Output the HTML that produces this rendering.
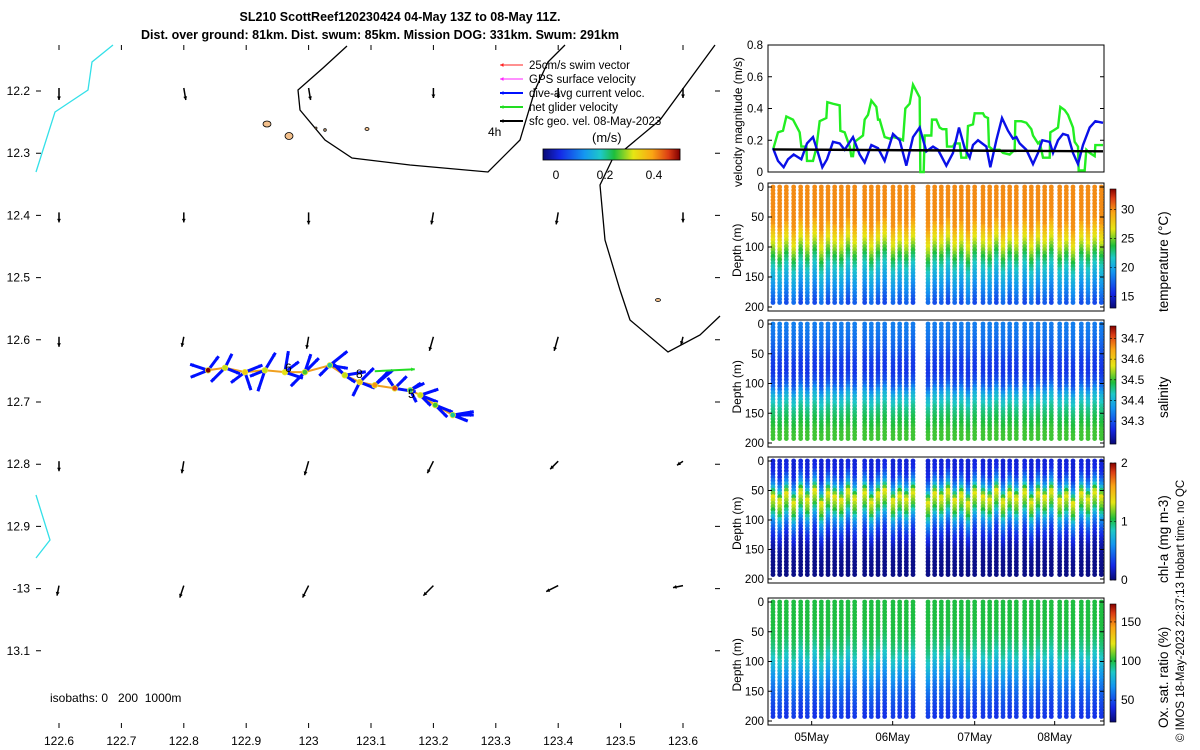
<!DOCTYPE html>
<html><head><meta charset="utf-8"><style>
body{margin:0;background:#fff;width:1200px;height:750px;overflow:hidden}
svg{font-family:"Liberation Sans","DejaVu Sans",sans-serif;display:block}
</style></head><body>
<svg id="s" width="1200" height="750" viewBox="0 0 1200 750">
<text x="400" y="21" text-anchor="middle" font-size="12.5" font-weight="bold">SL210 ScottReef120230424 04-May 13Z to 08-May 11Z.</text>
<text x="380" y="39" text-anchor="middle" font-size="12.5" font-weight="bold">Dist. over ground: 81km. Dist. swum: 85km. Mission DOG: 331km. Swum: 291km</text>
<g id="map"></g>
<g id="vel"></g>
<g id="sc"></g>
<text transform="translate(1184,742) rotate(-90)" font-size="11.5">© IMOS 18-May-2023 22:37:13 Hobart time. no QC</text>
</svg>
<script>
// ---------- DATA ----------
const mapLonTicks=[122.6,122.7,122.8,122.9,123,123.1,123.2,123.3,123.4,123.5,123.6];
const mapLatTicks=[12.2,12.3,12.4,12.5,12.6,12.7,12.8,12.9,13,13.1];
const mapLatLabels=["12.2","12.3","12.4","12.5","12.6","12.7","12.8","12.9","-13","13.1"];
const gridLons=[122.6,122.8,123.0,123.2,123.4,123.6];
const gridLats=[12.2,12.4,12.6,12.8,13.0];
const gridU=[[0,0.01,0.01,0,0,0],[0,0,0,-0.01,-0.01,0],[0,-0.01,-0.01,-0.02,-0.02,-0.01],[0,-0.01,-0.02,-0.03,-0.04,-0.03],[-0.01,-0.02,-0.03,-0.05,-0.06,-0.05]];
const gridV=[[0.06,0.06,0.06,0.05,0.05,0.05],[0.05,0.05,0.06,0.06,0.06,0.05],[0.05,0.05,0.06,0.07,0.07,0.04],[0.05,0.06,0.07,0.06,0.04,0.02],[0.05,0.06,0.06,0.05,0.03,0.01]];
const trackLon=[122.839,122.866,122.898,122.930,122.962,122.994,123.034,123.058,123.082,123.106,123.138,123.163,123.179,123.203,123.231];
const trackLat=[12.649,12.645,12.652,12.649,12.652,12.652,12.641,12.657,12.668,12.673,12.678,12.681,12.689,12.705,12.721];
const trackSpeed=[0.5,0.3,0.35,0.3,0.32,0.25,0.2,0.3,0.35,0.4,0.45,0.2,0.3,0.25,0.2];
const currU=[-0.25,0.1,-0.2,0.15,0.05,-0.2,0.25,0.15,0.2,0.1,0.3,0.2,0.15,0.25,0.3];
const currV=[0.1,-0.2,0.15,-0.25,-0.3,0.2,-0.2,0.1,-0.2,-0.1,0.05,-0.1,0.15,0.1,-0.05];
const curr2U=[0.15,-0.2,0.25,-0.1,0.2,0.2,-0.15,0.3,-0.1,0.2,-0.1,0.15,0.25,0.1,0.3];
const curr2V=[-0.2,0.2,-0.1,0.3,-0.15,-0.2,0.15,-0.05,0.2,-0.2,-0.15,-0.1,0.1,0.05,0.0];
const curr3U=[-0.3,0.25,0.1,-0.25,0.3,0.1,0.3,-0.2,0.25,0.3,0.2,0.1,0.3,0.2,0.25];
const curr3V=[-0.1,0.1,0.3,0.1,0.1,-0.3,0.05,-0.2,0.1,-0.25,-0.2,0.2,-0.1,0.2,0.1];
const velTicks=[0,0.2,0.4,0.6,0.8];
const greenT=[160,175,190,200,220,240,245,260,262,280,290,300,320,323,340,360,362,375,390,395,400,405,430,435,445,455,470,475,480,495,510,520,540,550,557,570,580,600,602,612,615,635,637,650,660,668,680,682,700,705,720,725,740,745,760,765,790,795,805,808,820,840,850,870,885,887,905,920,935,940,955,960,970,990,992,1000,1015,1022,1035,1045,1060,1065,1075,1077,1095,1100,1110,1125,1127,1150];
const greenV=[0.14,0.25,0.26,0.35,0.33,0.25,0.16,0.16,0.07,0.07,0.15,0.32,0.34,0.44,0.43,0.42,0.26,0.25,0.16,0.10,0.10,0.19,0.23,0.33,0.36,0.45,0.41,0.33,0.33,0.22,0.21,0.22,0.21,0.20,0.40,0.43,0.55,0.47,0,0,0.23,0.23,0.33,0.33,0.28,0.27,0.27,0.16,0.16,0.18,0.18,0.09,0.09,0.29,0.30,0.37,0.37,0.35,0.34,0.16,0.14,0.14,0.12,0.11,0.14,0.32,0.32,0.31,0.27,0.23,0.18,0.19,0.09,0.09,0.25,0.26,0.28,0.41,0.39,0.36,0.28,0.19,0.16,0.01,0.01,0.14,0.12,0.10,0.17,0.17];
const blueT=[160,175,192,205,222,245,262,280,295,308,322,340,360,375,400,420,435,455,475,495,520,540,560,580,600,620,640,655,680,700,718,735,750,760,775,800,812,830,847,865,880,890,900,920,940,955,968,990,1000,1015,1030,1045,1060,1075,1090,1110,1127,1150];
const blueV=[0.15,0.07,0.03,0.08,0.11,0.08,0.18,0.22,0.12,0.03,0.08,0.19,0.18,0.14,0.22,0.11,0.06,0.17,0.15,0.07,0.24,0.20,0.04,0.22,0.28,0.13,0.16,0.14,0.04,0.12,0.28,0.15,0.09,0.17,0.20,0.16,0.03,0.20,0.34,0.26,0.21,0.22,0.18,0.14,0.05,0.12,0.20,0.19,0.12,0.20,0.24,0.23,0.12,0.05,0.17,0.28,0.32,0.31];
const blackT=[160,1150];
const blackV=[0.142,0.13];
const dayTicks=[276,519,765,1005];
const dayLabels=["05May","06May","07May","08May"];
const profileT=[160,180,200,222,243,263,285,305,325,345,365,385,405,435,455,475,495,520,540,560,580,625,645,665,685,705,725,745,765,790,810,830,850,870,890,915,935,955,975,995,1020,1040,1060,1085,1105,1125,1145];
const profileShift=[0,-8,5,-10,8,-5,10,-12,6,0,-6,9,-3,7,-9,4,10,-7,2,-4,8,-10,5,-2,9,-6,3,-11,7,0,-5,10,-8,4,-3,8,-9,6,-1,9,-7,2,-12,5,-4,8,0];
const depthLevels=[0,20,40,60,80,100,120,140,160,180,200];
const tempProfile=[30,30,30,29.8,27.5,25.5,23,21,19.5,18,16.5];
const salProfile=[34.34,34.33,34.31,34.28,34.27,34.3,34.4,34.45,34.48,34.5,34.5];
const chlProfile=[0.2,0.25,0.6,1.35,1.1,0.6,0.3,0.12,0.05,0.03,0.03];
const oxProfile=[100,100,100,98,92,82,70,60,52,46,42];
const depthTicks=[0,50,100,150,200];
// ---------- HELPERS ----------
const NS="http://www.w3.org/2000/svg";
function mk(p,tag,a){const e=document.createElementNS(NS,tag);for(const k in a)e.setAttribute(k,a[k]);p.appendChild(e);return e;}
const CM=[[0,[10,10,120]],[0.12,[20,40,230]],[0.3,[20,150,240]],[0.42,[30,200,200]],[0.52,[30,190,60]],[0.66,[230,230,20]],[0.8,[250,165,20]],[0.92,[220,60,20]],[1,[130,0,0]]];
function jet(t){t=Math.max(0,Math.min(1,t));for(let i=1;i<CM.length;i++)if(t<=CM[i][0]){const f=(t-CM[i-1][0])/(CM[i][0]-CM[i-1][0]);const a=CM[i-1][1],b=CM[i][1];return `rgb(${a.map((v,k)=>Math.round(v+f*(b[k]-v))).join(',')})`;}return 'rgb(130,0,0)';}
function interp(xs,ys,x){if(x<=xs[0])return ys[0];for(let i=1;i<xs.length;i++)if(x<=xs[i]){const f=(x-xs[i-1])/(xs[i]-xs[i-1]);return ys[i-1]+f*(ys[i]-ys[i-1]);}return ys[ys.length-1];}
// ---------- MAP ----------
const map=document.getElementById('map');
const lx=l=>59+(l-122.6)*624, ly=l=>91+(l-12.2)*622;
mapLonTicks.forEach((l,i)=>{const x=lx(l);
 const tk=mk(map,'path',{d:`M${x} 45V50M${x} 728V723`,stroke:'#000','stroke-width':1});
 
 const t=mk(map,'text',{x:x,y:745,'text-anchor':'middle','font-size':12});t.textContent=String(l);
 });
mapLatTicks.forEach((l,i)=>{const y=ly(l);
 const tk=mk(map,'path',{d:`M36 ${y}H41M720 ${y}H715`,stroke:'#000','stroke-width':1});
 
 const t=mk(map,'text',{x:30,y:y+4,'text-anchor':'end','font-size':12});t.textContent=mapLatLabels[i];
 });
[['M113 45L92 62L88 90L55 112L36 172','#33e0e8','coastline-north'],['M36 495L50 540L36 558','#33e0e8','coastline-south'],
 ['M347 46L323 68L298 90L300 110L325 140L352 158L410 165L488 172L520 140L535 90L548 62L565 45','#000','reef-outline-north'],
 ['M715 45L660 120L612 160L600 185L605 240L620 290L630 320L668 352L700 335L720 316','#000','reef-outline-east']].forEach(p=>{
 const e=mk(map,'path',{d:p[0],stroke:p[1],fill:'none','stroke-width':1.3});});
[[267,124,4,3],[289,136,4,3.5],[316,128,1,1],[325,130,1.3,1.3],[367,129,2,1.5],[658,300,2.5,1.5]].forEach(c=>{
 const e=mk(map,'ellipse',{cx:c[0],cy:c[1],rx:c[2],ry:c[3],fill:'#f3c08c',stroke:'#000','stroke-width':0.8});});
function arrow(p,x1,y1,x2,y2,col,w,name){const g=mk(p,'g',{});
 mk(g,'line',{x1,y1,x2,y2,stroke:col,'stroke-width':w});const a=Math.atan2(y2-y1,x2-x1),h=4;
 mk(g,'path',{d:`M${x2} ${y2}L${x2-h*Math.cos(a-0.5)} ${y2-h*Math.sin(a-0.5)}L${x2-h*Math.cos(a+0.5)} ${y2-h*Math.sin(a+0.5)}Z`,fill:col});}
gridLats.forEach((la,j)=>gridLons.forEach((lo,i)=>{const x=lx(lo),y=ly(la)-3;arrow(map,x,y,x+gridU[j][i]*200,y+gridV[j][i]*200,'#000',1.5,'surface-geo-velocity-arrow');}));
const tr=mk(map,'polyline',{points:trackLon.map((l,i)=>lx(l)+','+ly(trackLat[i])).join(' '),fill:'none',stroke:'#f0a020','stroke-width':2});

trackLon.forEach((l,i)=>{const x=lx(l),y=ly(trackLat[i]);
 arrow(map,x,y,x+currU[i]*70,y+currV[i]*70,'#0010ff',3,'dive-avg-current-arrow');
 arrow(map,x,y,x+curr2U[i]*70,y+curr2V[i]*70,'#0010ff',3,'dive-avg-current-arrow');
 arrow(map,x,y,x+curr3U[i]*60,y+curr3V[i]*60,'#0010ff',3,'dive-avg-current-arrow');});
trackLon.forEach((l,i)=>{const x=lx(l),y=ly(trackLat[i]);
 const d=mk(map,'circle',{cx:x,cy:y,r:2.8,fill:jet((trackSpeed[i]+0.05)/0.55),stroke:'#e8e830','stroke-width':0.8});
 });
arrow(map,lx(trackLon[9]),ly(trackLat[9])-14,lx(trackLon[9])+40,ly(trackLat[9])-16,'#22dd22',2,'net-glider-velocity-arrow');
[["8",356,378],["5",408,398],["6",285,372]].forEach(t=>{const e=mk(map,'text',{x:t[1],y:t[2],'font-size':12});e.textContent=t[0];});
const leg=[['#ff2020','25cm/s swim vector'],['#ff20ff','GPS surface velocity'],['#0010ff','dive-avg current veloc.'],['#22dd22','net glider velocity'],['#000','sfc geo. vel. 08-May-2023']];
leg.forEach((l,i)=>{const y=65+i*14;arrow(map,523,y,500,y,l[0],i>=2?2:1,'legend-swatch');
 const t=mk(map,'text',{x:529,y:y+4,'font-size':11.5});t.textContent=l[1];});
{const t=mk(map,'text',{x:488,y:136,'font-size':12});t.textContent='4h';
 const u=mk(map,'text',{x:592,y:142,'font-size':13});u.textContent='(m/s)';
 const cb=mk(map,'g',{});
 for(let i=0;i<137;i++)mk(cb,'rect',{x:543+i,y:149,width:1.2,height:11,fill:jet(i/136)});
 mk(cb,'rect',{x:543,y:149,width:137,height:11,fill:'none',stroke:'#000','stroke-width':0.8});
 [[0,'0'],[0.2,'0.2'],[0.4,'0.4']].forEach(v=>{const x=556+v[0]*245;const t=mk(map,'text',{x:x,y:179,'text-anchor':'middle','font-size':12});t.textContent=v[1];});
 const iso=mk(map,'text',{x:50,y:702,'font-size':12,style:'white-space:pre'});iso.textContent='isobaths: 0   200  1000m';}
// ---------- VELOCITY ----------
const X0=768,X1=1104;const tx=t=>X0+(t-145)/1008*(X1-X0);
const vel=document.getElementById('vel');const vy=v=>172-v/0.8*127;
{const b=mk(vel,'rect',{x:X0,y:45,width:X1-X0,height:127,fill:'#fff',stroke:'#000','stroke-width':1});}
velTicks.forEach(v=>{const y=vy(v);mk(vel,'path',{d:`M${X0} ${y}h4M${X1} ${y}h-4`,stroke:'#000'});
 const t=mk(vel,'text',{x:763,y:y+4,'text-anchor':'end','font-size':11.5});t.textContent=String(v);});
[[greenT,greenV,'#22ee22','glider-speed-line'],[blueT,blueV,'#0a10e8','current-speed-line'],[blackT,blackV,'#000','geo-velocity-line']].forEach(s=>{
 const p=mk(vel,'polyline',{points:s[0].map((t,i)=>tx(t)+','+vy(s[1][i])).join(' '),fill:'none',stroke:s[2],'stroke-width':2.4});
 });
{const t=mk(vel,'text',{transform:'translate(742,187) rotate(-90)','font-size':12});t.textContent='velocity magnitude (m/s)';}
// ---------- PROFILE PANELS ----------
const sc=document.getElementById('sc');
const panels=[
 {y0:183,y1:311,prof:tempProfile,lo:13,hi:33.5,ticks:[15,20,25,30],lab:['15','20','25','30'],title:'temperature (°C)',ty:312,name:'temperature'},
 {y0:320,y1:447,prof:salProfile,lo:34.19,hi:34.76,ticks:[34.3,34.4,34.5,34.6,34.7],lab:['34.3','34.4','34.5','34.6','34.7'],title:'salinity',ty:418,name:'salinity'},
 {y0:457,y1:583,prof:chlProfile,lo:0,hi:2,ticks:[0,1,2],lab:['0','1','2'],title:'chl-a (mg m-3)',ty:583,name:'chlorophyll'},
 {y0:598,y1:725,prof:oxProfile,lo:22,hi:173,ticks:[50,100,150],lab:['50','100','150'],title:'Ox. sat. ratio (%)',ty:728,name:'oxygen'}];
panels.forEach((P,pi)=>{const g=mk(sc,'g',{});
 const dy=d=>P.y0+4+d/200*(P.y1-P.y0-8);
 mk(g,'rect',{x:X0,y:P.y0,width:X1-X0,height:P.y1-P.y0,fill:'#fff',stroke:'#000'});
 profileT.forEach((t,i)=>{const x=tx(t);const col=mk(g,'g',{});
  for(let d=0;d<=196;d+=5.5){const v=interp(depthLevels,P.prof,d+profileShift[i]*(pi==1?0.5:1));
   mk(col,'circle',{cx:x,cy:dy(d),r:2.4,fill:jet((v-P.lo)/(P.hi-P.lo))});}});
 depthTicks.forEach(d=>{const y=dy(d);mk(g,'path',{d:`M${X0} ${y}h4M${X1} ${y}h-4`,stroke:'#000'});
  const t=mk(g,'text',{x:764,y:y+4,'text-anchor':'end','font-size':11.5});t.textContent=String(d);});
 const yt=mk(g,'text',{transform:`translate(741,${(P.y0+P.y1)/2+30}) rotate(-90)`,'font-size':12});yt.textContent='Depth (m)';
 const cb=mk(g,'g',{});
 const cb0=P.y0+6,cb1=P.y1-3,h=cb1-cb0;
 for(let i=0;i<h;i++)mk(cb,'rect',{x:1110,y:cb1-i-1,width:6,height:1.2,fill:jet(i/h)});
 mk(cb,'rect',{x:1110,y:cb0,width:6,height:h,fill:'none',stroke:'#000','stroke-width':0.6});
 P.ticks.forEach((v,k)=>{const y=cb1-(v-P.lo)/(P.hi-P.lo)*h;mk(cb,'path',{d:`M1110 ${y}h2M1116 ${y}h-2`,stroke:'#000','stroke-width':0.6});
  const t=mk(g,'text',{x:1121,y:y+4,'font-size':12});t.textContent=P.lab[k];});
 const ct=mk(g,'text',{transform:`translate(1168,${P.ty}) rotate(-90)`,'font-size':13.5});ct.textContent=P.title;
});
dayTicks.forEach((t,i)=>{const x=tx(t);mk(sc,'path',{d:`M${x} 725v-4`,stroke:'#000'});
 const l=mk(sc,'text',{x:x,y:741,'text-anchor':'middle','font-size':11.5});l.textContent=dayLabels[i];});
</script>
</body></html>
